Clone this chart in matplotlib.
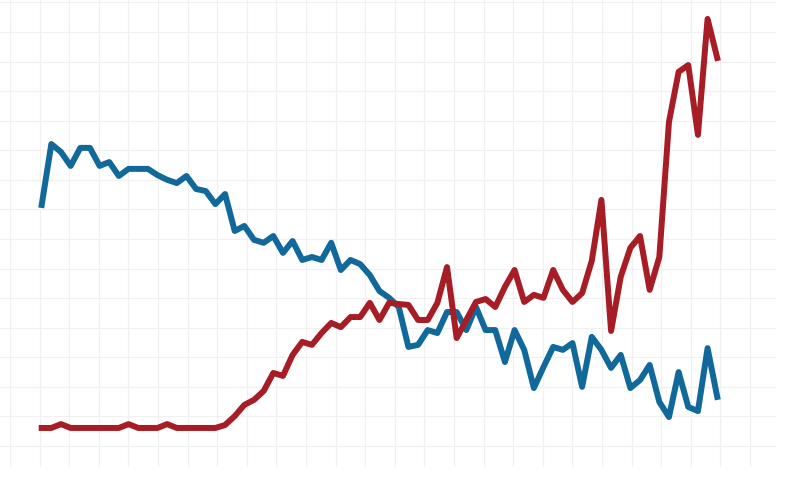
import numpy as np
import matplotlib
matplotlib.use("Agg")
import matplotlib.pyplot as plt

# Values (arbitrary units, one grid step = 10)
points = np.arange(71)

red_values = [6.1, 6.1, 7.4, 6.1, 6.1, 6.1, 6.1, 6.1, 6.1, 7.4,
              6.1, 6.1, 6.1, 7.4, 6.1, 6.1, 6.1, 6.1, 6.1, 7.1,
              10.1, 13.9, 15.6, 18.6, 24.7, 23.7, 30.8, 35.2, 34.2, 38.2,
              41.6, 40.2, 43.6, 43.6, 48.4, 42.6, 48.4, 48.0, 47.7, 42.6,
              42.6, 48.4, 60.5, 36.5, 42.6, 48.7, 49.7, 47.0, 53.8, 59.5,
              48.7, 51.1, 50.1, 59.5, 52.8, 48.7, 51.7, 62.6, 83.2, 38.9,
              57.2, 67.0, 71.0, 52.8, 63.9, 109.6, 126.5, 128.8, 105.2, 144.4,
              131.2]

blue_values = [81.5, 102.1, 99.4, 94.7, 100.8, 100.8, 94.7, 96.0, 91.3, 93.7,
               93.7, 93.7, 91.6, 90.0, 88.9, 91.3, 86.9, 86.2, 81.8, 85.2,
               72.7, 74.4, 69.7, 68.7, 71.0, 65.3, 69.3, 62.9, 63.9, 62.9,
               68.7, 59.5, 62.9, 61.5, 57.8, 52.4, 50.1, 47.0, 33.5, 34.2,
               39.2, 38.2, 45.3, 45.3, 39.2, 47.0, 39.2, 39.2, 28.4, 39.2,
               32.5, 19.6, 26.7, 33.5, 32.5, 34.8, 20.0, 36.9, 32.5, 26.4,
               30.8, 19.6, 22.3, 27.4, 14.9, 9.8, 25.0, 13.2, 11.8, 33.1,
               16.6]

fig = plt.figure(figsize=(7.96, 4.92), dpi=100)
ax = fig.add_axes([0, 25 / 492, 776 / 796, 467 / 492])

ax.plot(points, blue_values, color="#10699a", linewidth=4.3, zorder=3)
ax.plot(points, red_values, color="#a61d26", linewidth=4.3, zorder=3)

ax.set_xlim(-4.32, 76.09)
ax.set_ylim(-7.1, 150.8)

# light grid, no axes decoration
ax.set_xticks(np.arange(-3.285, 76, 3.067))
ax.set_yticks(np.arange(0, 151, 10))
ax.grid(True, color="#f0f0f0", linewidth=0.9, zorder=0)
ax.tick_params(length=0, labelbottom=False, labelleft=False)
for spine in ax.spines.values():
    spine.set_visible(False)

fig.savefig("out.png", dpi=100, facecolor="white")
